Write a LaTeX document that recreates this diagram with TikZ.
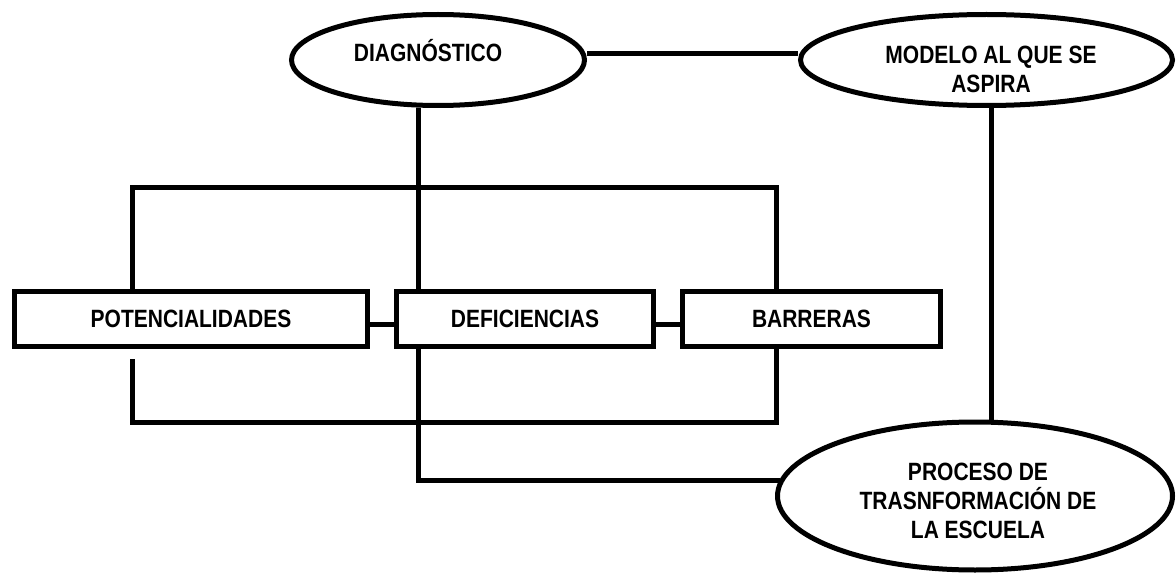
\documentclass[tikz,border=0pt]{standalone}
\usepackage{fontspec}
\setmainfont{Liberation Sans}[FakeStretch=0.84]
\usetikzlibrary{shapes.geometric,positioning}

\begin{document}
\begin{tikzpicture}[x=1pt, y=-1pt, line width=5pt,
  bubble/.style={ellipse, draw, inner sep=0pt},
  cajon/.style={rectangle, draw, minimum height=55pt, inner sep=0pt, font=\bfseries\fontsize{25}{29}\selectfont},
  rotulo/.style={align=center, inner sep=0pt, font=\bfseries\fontsize{25}{29}\selectfont}]
\useasboundingbox (0,0) rectangle (1176,575);
% ellipses
\node[bubble, minimum width=293pt, minimum height=91pt] (diag) at (438,60) {};
\node[bubble, minimum width=372pt, minimum height=91pt] (mod) at (986.5,60) {};
\node[bubble, minimum width=395pt, minimum height=148pt] (proc) at (975,496) {};
\node[rotulo] (diagt) at (428,51) {DIAGNÓSTICO};
\node[rotulo] (modt) at (991,69.5) {MODELO AL QUE SE\\ASPIRA};
\node[rotulo] (proct) at (978,501) {PROCESO DE\\TRASNFORMACIÓN DE\\LA ESCUELA};
% boxes
\node[cajon, minimum width=353pt] (pot) at (191,319) {POTENCIALIDADES};
\node[cajon, minimum width=257pt] (def) at (525,319) {DEFICIENCIAS};
\node[cajon, minimum width=258pt] (bar) at (811.5,319) {BARRERAS};
\coordinate (ul) at (132,188);
\coordinate (ur) at (776,188);
\coordinate (ll) at (132,422);
\coordinate (lr) at (776,422);
\coordinate (dl) at (418,480);
\draw ([yshift=6]diag.east) -- ([yshift=6]diag.east -| mod.west);
\draw ([xshift=-20]diag.south) -- ([xshift=-20]diag.south |- def.north);
\draw ([xshift=5]mod.south) -- ([xshift=5]mod.south |- proc.north);
\draw ([yshift=-5]pot.east) -- ([yshift=-5]def.west);
\draw ([yshift=-5]def.east) -- ([yshift=-5]bar.west);
\draw (pot.north -| ul) -- (ul) -- (ur) -- (bar.north -| ur);
\draw ([yshift=-10]pot.south -| ll) -- (ll) -- (lr) -- (bar.south -| lr);
\draw (def.south -| dl) -- (dl) -- (dl -| proc.175);
\end{tikzpicture}
\end{document}
